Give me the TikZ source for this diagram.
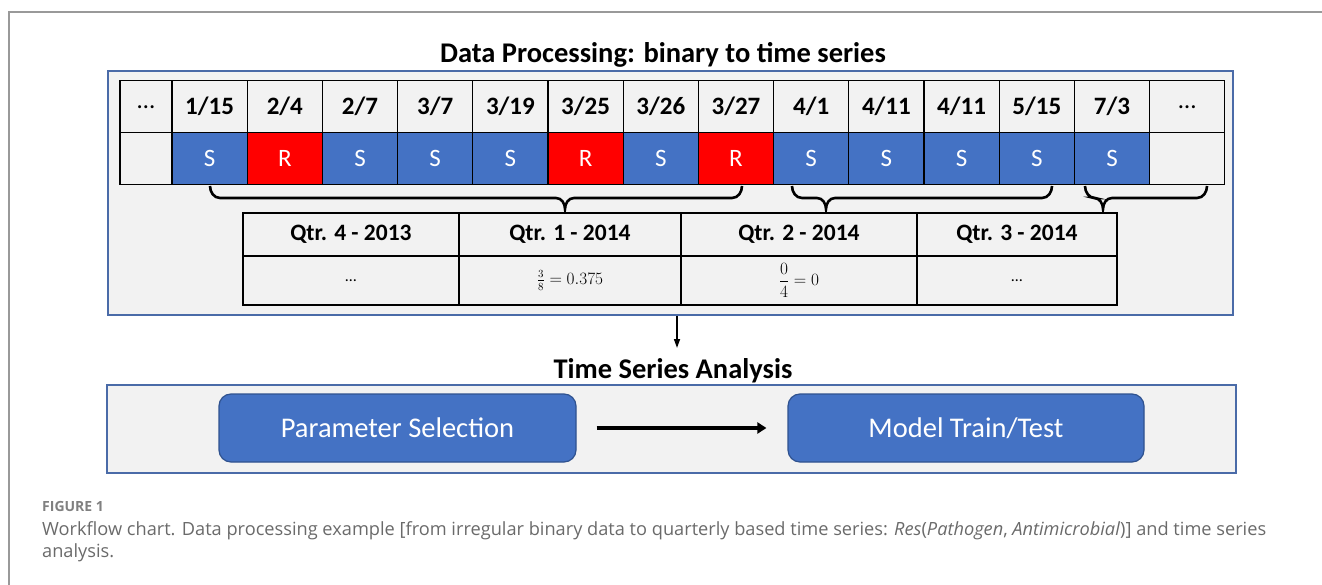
\documentclass[tikz,border=0pt]{standalone}
\usepackage{fontspec}
\setmainfont{Carlito}
\newfontfamily\capfont{Open Sans}
\usetikzlibrary{positioning,arrows.meta}
\definecolor{sblue}{HTML}{4472C4}
\definecolor{rred}{HTML}{FF0000}
\definecolor{paper}{HTML}{F2F2F2}
\definecolor{frameblue}{HTML}{4A6BA8}
\definecolor{boxedge}{HTML}{2F528F}
\definecolor{capgray}{HTML}{6A6A6A}
\newcommand{\bigtxt}{\fontsize{25}{29}\selectfont}
\newcommand{\headtxt}{\fontsize{28.5}{32}\selectfont}
\newcommand{\qbrace}[3]{\draw[braceline] (#1,186) to[out=-90,in=180] (#1+10,198) -- (#2-9,198) to[out=0,in=90] (#2,209) to[out=90,in=180] (#2+9,198) -- (#3-10,198) to[out=0,in=-90] (#3,186);}
\tikzset{
  panel/.style={draw=frameblue, line width=1.6, fill=paper, inner sep=0},
  datecell/.style={draw=black, line width=1.2, fill=paper, minimum width=75.2, minimum height=52.2, inner sep=0, font=\bigtxt\bfseries},
  valcell/.style={datecell, font=\bigtxt, text=white},
  qcell/.style={draw=black, line width=1.2, fill=paper, inner sep=0, font=\fontsize{23.5}{27}\selectfont\bfseries},
  stepbox/.style={draw=boxedge, line width=1.2, fill=sblue, rounded corners=12, inner sep=0, text=white, font=\headtxt, minimum height=68},
  braceline/.style={line width=2.6, black},
  thinarrow/.style={-{Triangle[length=9,width=6]}, line width=1.6},
  thickarrow/.style={-{Triangle[length=9,width=11]}, line width=3.4}
}
\begin{document}
\begin{tikzpicture}[x=1pt,y=-1pt]
\useasboundingbox (0,0) rectangle (1322,585);
% page frame
\draw [color=black!40, line width=1.5] (9,585) -- (9,12) -- (1322,12);
% data processing
\node [anchor=base, font=\headtxt\bfseries] (dptitle) at (663,63) {Data Processing: binary to time series};
\node [panel, minimum width=1125, minimum height=244] (dpbox) at (670.5,193) {};
\node [datecell, minimum width=52, font=\bigtxt] (d0) at (146,106.7) {…};
\node [datecell, minimum width=52] (v0) at (146,158.8) {};
\foreach \d/\v/\c [count=\i] in {{1/15}/S/sblue,{2/4}/R/rred,{2/7}/S/sblue,{3/7}/S/sblue,{3/19}/S/sblue,{3/25}/R/rred,{3/26}/S/sblue,{3/27}/R/rred,{4/1}/S/sblue,{4/11}/S/sblue,{4/11}/S/sblue,{5/15}/S/sblue,{7/3}/S/sblue}
{
  \node [datecell] (d\i) at (134.4+75.2*\i,106.7) {\d};
  \node [valcell, fill=\c] (v\i) at (134.4+75.2*\i,158.8) {\v};
}
\node [datecell, font=\bigtxt] (d14) at (1187.2,106.7) {…};
\node [datecell] (v14) at (1187.2,158.8) {};
% braces to quarters
\qbrace{210}{565}{742}
\qbrace{792}{826}{1052}
\qbrace{1085}{1103}{1207}
% quarterly table
\node [qcell, minimum width=216, minimum height=43] (q1) at (351,234.5) {Qtr. 4 - 2013};
\node [qcell, minimum width=222, minimum height=43] (q2) at (570,234.5) {Qtr. 1 - 2014};
\node [qcell, minimum width=236, minimum height=43] (q3) at (799,234.5) {Qtr. 2 - 2014};
\node [qcell, minimum width=200, minimum height=43] (q4) at (1017,234.5) {Qtr. 3 - 2014};
\node [qcell, minimum width=216, minimum height=49, font=\fontsize{16}{18}\selectfont] (r1) at (351,280.5) {…};
\node [qcell, minimum width=222, minimum height=49, font=\fontsize{16}{18}\selectfont] (r2) at (570,280.5) {$\frac{3}{8}=0.375$};
\node [qcell, minimum width=236, minimum height=49, font=\fontsize{16}{18}\selectfont] (r3) at (799,280.5) {${\displaystyle\frac{0}{4}}=0$};
\node [qcell, minimum width=200, minimum height=49, font=\fontsize{16}{18}\selectfont] (r4) at (1017,280.5) {…};
% time series analysis
\node [anchor=base, font=\headtxt\bfseries] (tstitle) at (673,378) {Time Series Analysis};
\draw [thinarrow] (dpbox.south -| 677,0) -- (677,348);
\node [panel, minimum width=1129, minimum height=88] (tsbox) at (671.5,429) {};
\node [stepbox, minimum width=357] (param) at (397.5,428) {Parameter Selection};
\node [stepbox, minimum width=356] (model) at (966,428) {Model Train/Test};
\draw [thickarrow] ([xshift=20]param.east) -- ([xshift=-21]model.west);
% caption
\node [anchor=base west, inner sep=0, font=\capfont\fontsize{14}{16}\selectfont\bfseries, text=capgray!85] (figlabel) at (42,511.7) {FIGURE 1};
\node [anchor=base west, inner sep=0, font=\capfont\fontsize{18.2}{23}\selectfont, text=capgray] (figcap) at (42,535) {Workflow chart. Data processing example [from irregular binary data to quarterly based time series: \textit{Res}(\textit{Pathogen}, \textit{Antimicrobial})] and time series};
\node [anchor=base west, inner sep=0, font=\capfont\fontsize{18.2}{23}\selectfont, text=capgray] (figcap2) at (42,557) {analysis.};
\end{tikzpicture}
\end{document}
